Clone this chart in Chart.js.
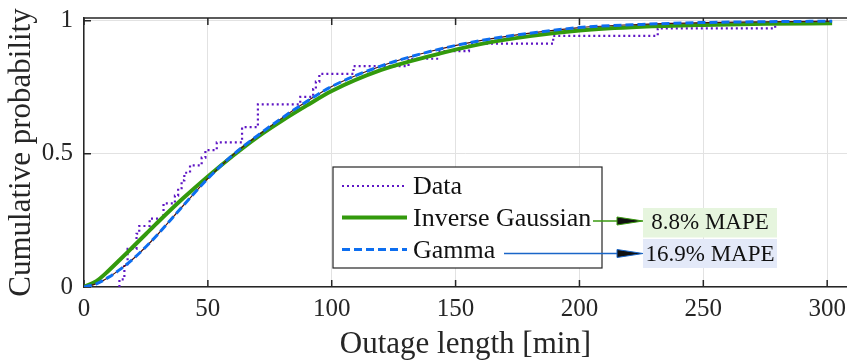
<!DOCTYPE html>
<html>
<head>
<meta charset="utf-8">
<script src="https://cdn.jsdelivr.net/npm/chart.js@4.4.1/dist/chart.umd.min.js"></script>
<style>
  html, body { margin: 0; padding: 0; background: #fff; }
  #wrap { width: 847px; height: 363px; }
</style>
</head>
<body>
<div id="wrap"><canvas id="cdfChart" width="847" height="363"></canvas></div>
<script>
/* outage length CDF – empirical data vs. fitted distributions */

const xTicks = [0, 50, 100, 150, 200, 250, 300];
const yTicks = [0, 0.5, 1];

// empirical CDF: jump position [min] and level after the jump
const dataX = [14.3, 14.3, 16.3, 17.6, 21.2, 22.3, 26.5, 32.1, 36.7, 38.0, 39.4, 40.5, 42.8, 47.5, 49.0,
  53.6, 63.8, 70.2, 87.3, 92.5, 93.6, 95.0, 108.8, 131.0, 143.0, 155.4, 189.4, 231.6, 279.0];
const dataY = [0, 0.029, 0.086, 0.143, 0.200, 0.229, 0.257, 0.314, 0.343, 0.371, 0.400, 0.429, 0.457, 0.486, 0.514,
  0.543, 0.600, 0.686, 0.714, 0.743, 0.771, 0.800, 0.829, 0.857, 0.886, 0.914, 0.943, 0.971, 1.000];

// fitted CDFs
const fitX = [0, 5, 10, 15, 20, 25, 30, 40, 50, 60, 70, 80, 90, 100, 120, 140, 160, 180, 200, 225, 250, 275, 302];
const invGaussY = [0, 0.022, 0.062, 0.107, 0.153, 0.199, 0.245, 0.333, 0.415, 0.492, 0.563, 0.625, 0.682, 0.736,
  0.815, 0.868, 0.912, 0.942, 0.963, 0.977, 0.984, 0.988, 0.99];
const gammaY = [0, 0.012, 0.037, 0.069, 0.107, 0.151, 0.2, 0.305, 0.407, 0.495, 0.568, 0.635, 0.697, 0.753,
  0.83, 0.885, 0.925, 0.953, 0.974, 0.986, 0.993, 0.996, 0.998];

const legendOrder = ['Data', 'Inverse Gaussian', 'Gamma'];
const mapeLabels = ['8.8% MAPE', '16.9% MAPE'];

const FONT = 'Liberation Serif';
const AXIS = '#262626';
const pts = (xs, ys) => xs.map((x, i) => ({ x, y: ys[i] }));

// box + inward tick marks like the original figure
const boxAxes = {
  id: 'boxAxes',
  beforeDatasetsDraw(chart) {
    const { ctx, chartArea: a, scales: { x, y } } = chart;
    ctx.save();
    ctx.strokeStyle = AXIS;
    ctx.lineWidth = 1.5;
    ctx.beginPath();
    ctx.moveTo(a.left, a.top); ctx.lineTo(a.right, a.top);
    xTicks.forEach(v => {
      const px = x.getPixelForValue(v);
      ctx.moveTo(px, a.bottom); ctx.lineTo(px, a.bottom - 7);
      ctx.moveTo(px, a.top); ctx.lineTo(px, a.top + 7);
    });
    yTicks.forEach(v => {
      const py = y.getPixelForValue(v);
      ctx.moveTo(a.left, py); ctx.lineTo(a.left + 7, py);
    });
    ctx.stroke();
    ctx.restore();
  }
};

// legend box drawn inside the plot
const legendBox = {
  id: 'legendBox',
  afterDraw(chart) {
    const ctx = chart.ctx;
    const rows = legendOrder.map(l => chart.data.datasets.find(d => d.label === l));
    const bx = 333, by = 167, bw = 269, bh = 101;
    ctx.save();
    ctx.fillStyle = '#fff';
    ctx.fillRect(bx, by, bw, bh);
    ctx.strokeStyle = AXIS;
    ctx.lineWidth = 1.2;
    ctx.strokeRect(bx, by, bw, bh);
    const rowY = [186, 217.5, 249.5];
    rows.forEach((d, i) => {
      ctx.strokeStyle = d.borderColor;
      ctx.lineWidth = d.borderWidth;
      ctx.setLineDash(d.borderDash || []);
      ctx.beginPath();
      ctx.moveTo(342, rowY[i]); ctx.lineTo(407, rowY[i]);
      ctx.stroke();
      ctx.setLineDash([]);
      ctx.fillStyle = '#111';
      ctx.font = `26px "${FONT}"`;
      ctx.textBaseline = 'middle';
      ctx.textAlign = 'left';
      ctx.fillText(d.label, 413, rowY[i] + 1.5);
    });
    ctx.restore();
  }
};

// MAPE notes with arrows
const mapeNotes = {
  id: 'mapeNotes',
  afterDraw(chart) {
    const ctx = chart.ctx;
    const notes = [
      { text: mapeLabels[0], bg: '#e6f5de', col: '#3a9a10', x0: 593, y: 221, top: 208, h: 29.5 },
      { text: mapeLabels[1], bg: '#e3e9f8', col: '#1a66c8', x0: 504, y: 253.5, top: 239, h: 29 }
    ];
    ctx.save();
    notes.forEach(n => {
      ctx.fillStyle = n.bg;
      ctx.fillRect(643, n.top, 134, n.h);
      ctx.strokeStyle = n.col;
      ctx.lineWidth = 1.5;
      ctx.beginPath();
      ctx.moveTo(n.x0, n.y); ctx.lineTo(620, n.y);
      ctx.stroke();
      ctx.beginPath();
      ctx.moveTo(617, n.y - 4); ctx.lineTo(643, n.y); ctx.lineTo(617, n.y + 4); ctx.closePath();
      ctx.fillStyle = '#111';
      ctx.fill();
      ctx.lineWidth = 1;
      ctx.stroke();
      ctx.fillStyle = '#111';
      ctx.font = `23px "${FONT}"`;
      ctx.textAlign = 'center';
      ctx.textBaseline = 'middle';
      ctx.fillText(n.text, 710, n.y + 1.5);
    });
    ctx.restore();
  }
};

new Chart(document.getElementById('cdfChart').getContext('2d'), {
  type: 'line',
  data: {
    datasets: [
      { label: 'Gamma', data: pts(fitX, gammaY), borderColor: '#0d6ef0', borderWidth: 3,
        borderDash: [8, 4], pointRadius: 0, cubicInterpolationMode: 'monotone', fill: false, order: 0 },
      { label: 'ref', data: pts(fitX, gammaY), borderColor: '#4a1010', borderWidth: 1.2,
        pointRadius: 0, cubicInterpolationMode: 'monotone', fill: false, order: 1 },
      { label: 'Inverse Gaussian', data: pts(fitX, invGaussY), borderColor: '#339a0c', borderWidth: 4,
        pointRadius: 0, cubicInterpolationMode: 'monotone', fill: false, order: 2 },
      { label: 'Data', data: pts(dataX, dataY), borderColor: '#5f16c4', borderWidth: 2.2,
        borderDash: [2, 3], pointRadius: 0, stepped: 'before', fill: false, order: 3 }
    ]
  },
  options: {
    responsive: false,
    animation: false,
    devicePixelRatio: 1,
    layout: { padding: { top: 18, right: 0, left: 0, bottom: 0 } },
    plugins: { legend: { display: false }, tooltip: { enabled: false } },
    scales: {
      x: {
        type: 'linear', min: 0, max: 308,
        afterBuildTicks: s => { s.ticks = xTicks.map(v => ({ value: v })); },
        afterFit: s => { s.height = 76; s.paddingLeft = 0; s.paddingRight = 0; },
        grid: { color: '#e2e2e2', lineWidth: 1, drawTicks: false },
        border: { display: true, color: AXIS, width: 1.5 },
        ticks: { color: AXIS, font: { family: FONT, size: 25 }, padding: 7, maxRotation: 0, autoSkip: false },
        title: { display: true, text: 'Outage length [min]', color: AXIS,
          font: { family: FONT, size: 31 }, padding: { top: 0, bottom: 0 } }
      },
      y: {
        type: 'linear', min: 0, max: 1.01,
        afterBuildTicks: s => { s.ticks = yTicks.map(v => ({ value: v })); },
        afterFit: s => { s.width = 84; s.paddingTop = 0; s.paddingBottom = 0; },
        grid: { color: '#e2e2e2', lineWidth: 1, drawTicks: false },
        border: { display: true, color: AXIS, width: 1.5 },
        ticks: { color: AXIS, font: { family: FONT, size: 25 }, padding: 11, callback: v => String(v) },
        title: { display: true, text: 'Cumulative probability', color: AXIS,
          font: { family: FONT, size: 31 }, padding: { top: 3, bottom: 0 } }
      }
    }
  },
  plugins: [boxAxes, legendBox, mapeNotes]
});
</script>
</body>
</html>
